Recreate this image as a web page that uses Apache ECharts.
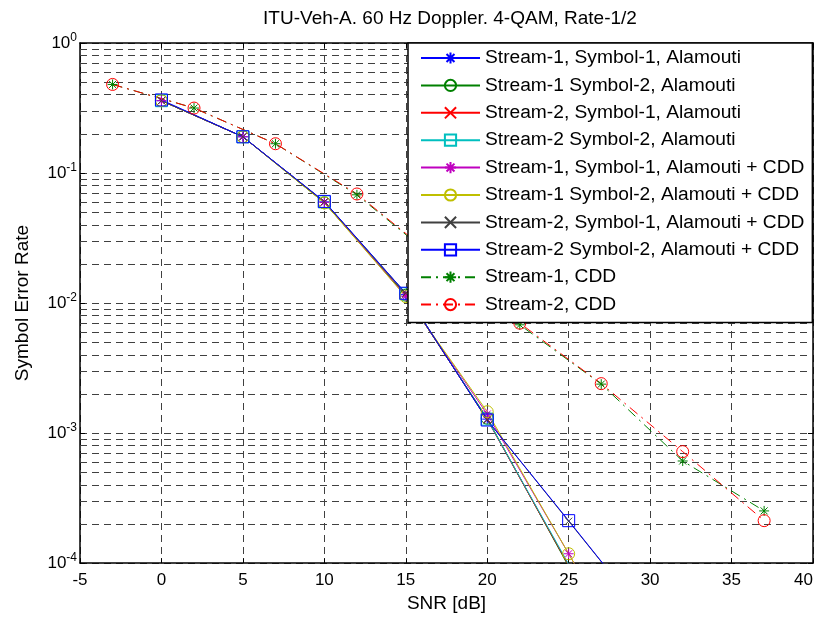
<!DOCTYPE html>
<html>
<head>
<meta charset="utf-8">
<script src="https://cdn.jsdelivr.net/npm/echarts@6/dist/echarts.min.js"></script>
<style>html,body{margin:0;padding:0;background:#fff}#c{width:825px;height:618px}</style>
</head>
<body>
<div id="c"></div>
<script>
// ---------- data ----------
const snrAla = [0, 5, 10, 15, 20, 25, 30];
const s1sym1Ala = [0.36, 0.19, 0.060, 0.0116, 0.00128, 9.6e-5, 9e-6];
const s1sym2Ala = [0.36, 0.19, 0.059, 0.0115, 0.00130, 9.4e-5, 9e-6];
const s2sym1Ala = [0.36, 0.19, 0.060, 0.0117, 0.00127, 9.6e-5, 9e-6];
const s2sym2Ala = [0.36, 0.19, 0.060, 0.0118, 0.00128, 9.8e-5, 9e-6];
const s1sym1Cdd = [0.36, 0.19, 0.0595, 0.0113, 0.00140, 1.18e-4, 9.5e-6];
const s1sym2Cdd = [0.36, 0.19, 0.059, 0.0112, 0.00146, 1.18e-4, 9.5e-6];
const s2sym1Cdd = [0.36, 0.19, 0.060, 0.0119, 0.00126, 2.1e-4, 3.5e-5];
const s2sym2Cdd = [0.365, 0.19, 0.0605, 0.0119, 0.00126, 2.12e-4, 3.5e-5];
const snrCdd = [-3, 2, 7, 12, 17, 22, 27, 32, 37];
const s1Cdd = [0.48, 0.316, 0.168, 0.068, 0.021, 0.0068, 0.00238, 0.00061, 0.000252];
const s2Cdd = [0.48, 0.316, 0.168, 0.069, 0.0215, 0.0070, 0.00240, 0.00072, 0.000212];
const minorGridValues = [2e-1,3e-1,4e-1,5e-1,6e-1,7e-1,8e-1,9e-1,
  2e-2,3e-2,4e-2,5e-2,6e-2,7e-2,8e-2,9e-2,
  2e-3,3e-3,4e-3,5e-3,6e-3,7e-3,8e-3,9e-3,
  2e-4,3e-4,4e-4,5e-4,6e-4,7e-4,8e-4,9e-4];
const xTicks = {min: -5, max: 40, interval: 5};
const names = [
  'Stream-1, Symbol-1, Alamouti',
  'Stream-1 Symbol-2, Alamouti',
  'Stream-2, Symbol-1, Alamouti',
  'Stream-2 Symbol-2, Alamouti',
  'Stream-1, Symbol-1, Alamouti + CDD',
  'Stream-1 Symbol-2, Alamouti + CDD',
  'Stream-2, Symbol-1, Alamouti + CDD',
  'Stream-2 Symbol-2, Alamouti + CDD',
  'Stream-1, CDD',
  'Stream-2, CDD'
];

// ---------- styles ----------
const FONT = "'Liberation Sans', Arial, sans-serif";
const STAR = 'path://M0,-10L0,10M-10,0L10,0M-7.07,-7.07L7.07,7.07M-7.07,7.07L7.07,-7.07';
const XMARK = 'path://M-10,-10L10,10M-10,10L10,-10';
const CIRC = 'circle';
const SQ = 'rect';
const dashDot = [10, 5, 2, 5];
const gridDash = [7, 5];
const gridColor = '#404040';

function zip(xs, ys){ return xs.map((x,i)=>[x, ys[i]]); }
function mk(name, xs, ys, color, symbol, size, dashed){
  return {
    name, type: 'line', data: zip(xs, ys),
    symbol, symbolSize: size, showSymbol: true,
    clip: true,
    lineStyle: {color, width: 1, type: dashed ? dashDot : 'solid'},
    itemStyle: {color: 'rgba(0,0,0,0)', borderColor: color, borderWidth: 1},
    emphasis: {disabled: true},
    animation: false
  };
}

const series = [
  {
    name: 'minorGrid', type: 'lines', coordinateSystem: 'cartesian2d',
    silent: true, z: 1, animation: false,
    lineStyle: {color: gridColor, type: gridDash, width: 1, opacity: 1},
    data: minorGridValues.map(v => ({coords: [[xTicks.min, v], [xTicks.max, v]]}))
  },
  mk(names[0], snrAla, s1sym1Ala, '#0000FF', STAR, 10),
  mk(names[1], snrAla, s1sym2Ala, '#008000', CIRC, 12),
  mk(names[2], snrAla, s2sym1Ala, '#FF0000', XMARK, 7),
  mk(names[3], snrAla, s2sym2Ala, '#00BFBF', SQ, 12),
  mk(names[4], snrAla, s1sym1Cdd, '#BF00BF', STAR, 10),
  mk(names[5], snrAla, s1sym2Cdd, '#BFBF00', CIRC, 12),
  mk(names[6], snrAla, s2sym1Cdd, '#404040', XMARK, 7),
  mk(names[7], snrAla, s2sym2Cdd, '#0000FF', SQ, 12),
  mk(names[8], snrCdd, s1Cdd, '#008000', STAR, 10, true),
  mk(names[9], snrCdd, s2Cdd, '#FF0000', CIRC, 12, true)
];

const chart = echarts.init(document.getElementById('c'), null, {renderer: 'canvas'});
chart.setOption({
  animation: false,
  backgroundColor: '#fff',
  textStyle: {fontFamily: FONT},
  title: {
    text: 'ITU-Veh-A. 60 Hz Doppler. 4-QAM, Rate-1/2',
    left: 450, top: 9, textAlign: 'center', padding: 0,
    textStyle: {fontFamily: FONT, fontSize: 19, fontWeight: 'normal', color: '#000'}
  },
  grid: {left: 80, right: 12, top: 43, bottom: 51, containLabel: false},
  legend: {
    data: names, orient: 'vertical', left: 408, top: 43, z: 20,
    backgroundColor: '#fff', borderColor: '#000', borderWidth: 1.5, borderRadius: 0,
    padding: [5, 8, 8, 12], itemWidth: 59, itemHeight: 14, itemGap: 7.4,
    textStyle: {fontFamily: FONT, fontSize: 19.2, color: '#000', lineHeight: 20},
    selectedMode: false
  },
  xAxis: [{
    type: 'value', min: xTicks.min, max: xTicks.max, interval: xTicks.interval,
    position: 'bottom',
    name: 'SNR [dB]', nameLocation: 'middle', nameGap: 27,
    nameTextStyle: {fontFamily: FONT, fontSize: 19, color: '#000'},
    axisLine: {show: true, onZero: false, lineStyle: {color: '#000', width: 1.5}},
    axisTick: {show: true, inside: true, length: 5, lineStyle: {color: '#000'}},
    axisLabel: {fontFamily: FONT, fontSize: 17, color: '#000', margin: 9, alignMaxLabel: 'right'},
    splitLine: {show: true, lineStyle: {color: gridColor, type: gridDash, width: 1}}
  }, {
    type: 'value', min: xTicks.min, max: xTicks.max, interval: xTicks.interval,
    position: 'top',
    axisLine: {show: true, onZero: false, lineStyle: {color: '#000', width: 1.5}},
    axisTick: {show: true, inside: true, length: 5, lineStyle: {color: '#000'}},
    axisLabel: {show: false}, splitLine: {show: false}
  }],
  yAxis: [{
    type: 'log', logBase: 10, min: 1e-4, max: 1,
    position: 'left',
    name: 'Symbol Error Rate', nameLocation: 'middle', nameGap: 48,
    nameTextStyle: {fontFamily: FONT, fontSize: 19, color: '#000'},
    axisLine: {show: true, onZero: false, lineStyle: {color: '#000', width: 1.5}},
    axisTick: {show: true, inside: true, length: 5, lineStyle: {color: '#000'}},
    axisLabel: {
      margin: 3,
      formatter: v => '{b|10}{s|' + Math.round(Math.log10(v)) + '}',
      rich: {
        b: {fontFamily: FONT, fontSize: 17, color: '#000'},
        s: {fontFamily: FONT, fontSize: 12, color: '#000', padding: [0, 0, 10, 0]}
      }
    },
    splitLine: {show: true, lineStyle: {color: gridColor, type: gridDash, width: 1}}
  }, {
    type: 'log', logBase: 10, min: 1e-4, max: 1,
    position: 'right',
    axisLine: {show: true, onZero: false, lineStyle: {color: '#000', width: 1.5}},
    axisTick: {show: true, inside: true, length: 5, lineStyle: {color: '#000'}},
    axisLabel: {show: false}, splitLine: {show: false}
  }],
  series
});
</script>
</body>
</html>
